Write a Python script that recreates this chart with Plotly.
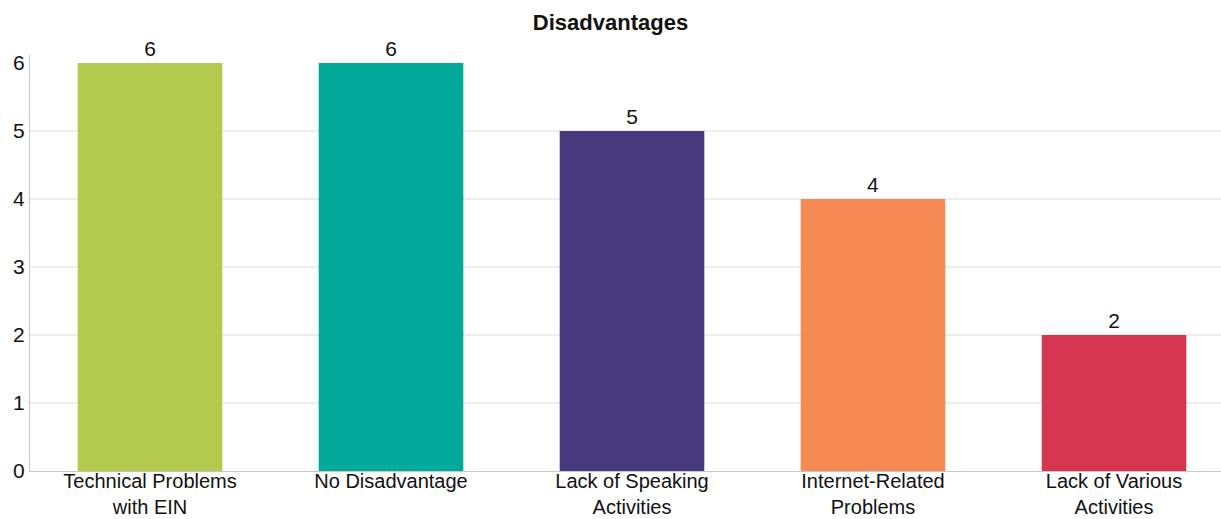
import plotly.graph_objects as go

categories = ["Technical Problems<br>with EIN", "No Disadvantage", "Lack of Speaking<br>Activities",
              "Internet-Related<br>Problems", "Lack of Various<br>Activities"]
values = [6, 6, 5, 4, 2]
bar_colors = ["#B3CB4D", "#00A99A", "#463A7C", "#F68A53", "#D63550"]
y_ticks = [0, 1, 2, 3, 4, 5, 6]
grid_vals = [1, 2, 3, 4, 5]

FONT = "Liberation Sans, Arial, sans-serif"

fig = go.Figure(go.Bar(
    x=list(range(len(categories))), y=values,
    marker=dict(color=bar_colors, line=dict(width=0)),
    width=0.6,
    text=[str(v) for v in values], textposition="outside",
    textfont=dict(family=FONT, size=21, color="#111111"),
    cliponaxis=False,
))

for g in grid_vals:
    fig.add_shape(type="line", xref="paper", yref="y", x0=0, x1=1, y0=g, y1=g,
                  line=dict(color="#dcdcdc", width=1), layer="below")

fig.update_layout(
    width=1221, height=519,
    margin=dict(l=30, r=0, t=55, b=48),
    paper_bgcolor="white", plot_bgcolor="white",
    title=dict(text="<b>Disadvantages</b>", x=0.5, xanchor="center", y=1 - 22 / 519,
               yanchor="middle", font=dict(family=FONT, size=22, color="#111111")),
    showlegend=False,
    bargap=0.4,
)
fig.update_xaxes(
    range=[-0.498, 4.444],
    tickmode="array", tickvals=list(range(len(categories))), ticktext=categories,
    tickfont=dict(family=FONT, size=20, color="#111111"),
    showgrid=False, zeroline=False, showline=True, linecolor="#c8c8c8", linewidth=1,
    ticks="", automargin=False, ticklabelstandoff=-8,
)
fig.update_yaxes(
    range=[0, 6.118],
    tickmode="array", tickvals=y_ticks,
    tickfont=dict(family=FONT, size=21, color="#111111"),
    showgrid=False, zeroline=False, showline=True, linecolor="#c8c8c8", linewidth=1,
    ticks="", automargin=False,
)

fig.write_html("out.html")
